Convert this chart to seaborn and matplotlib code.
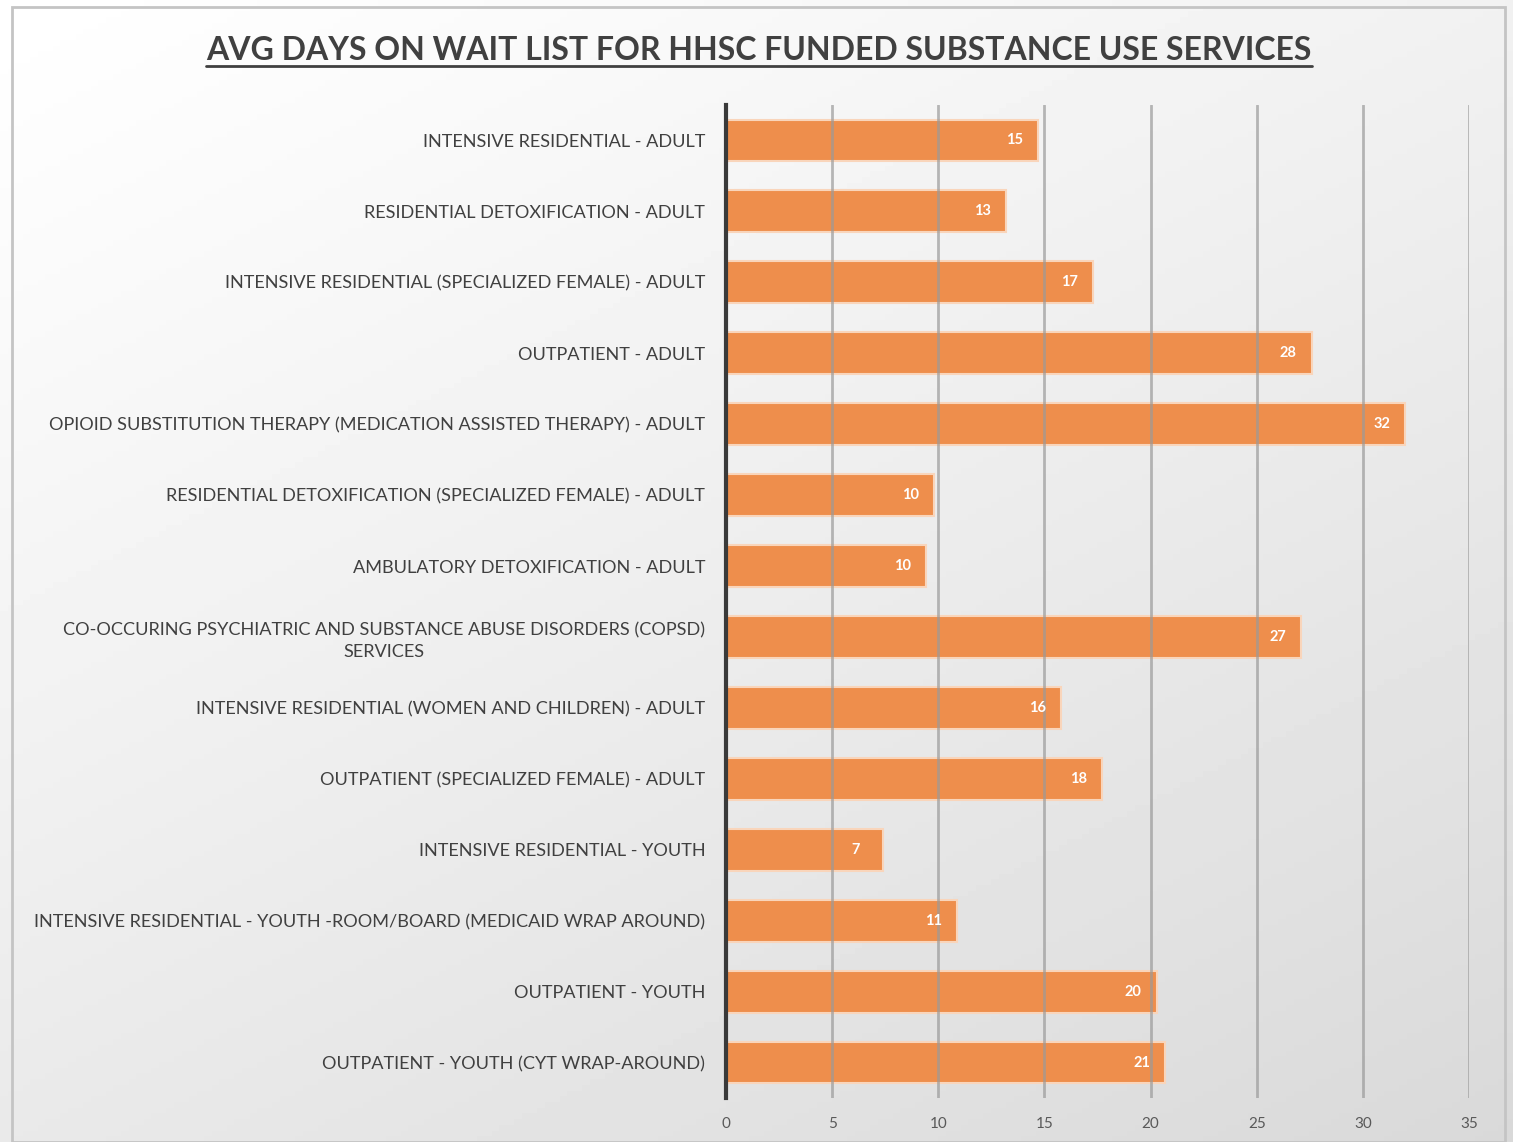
import numpy as np
import pandas as pd
import matplotlib
matplotlib.use("Agg")
import matplotlib.pyplot as plt
import seaborn as sns
from matplotlib.lines import Line2D
from matplotlib.patches import Rectangle

services = [
    "INTENSIVE RESIDENTIAL - ADULT",
    "RESIDENTIAL DETOXIFICATION - ADULT",
    "INTENSIVE RESIDENTIAL (SPECIALIZED FEMALE) - ADULT",
    "OUTPATIENT - ADULT",
    "OPIOID SUBSTITUTION THERAPY (MEDICATION ASSISTED THERAPY) - ADULT",
    "RESIDENTIAL DETOXIFICATION (SPECIALIZED FEMALE) - ADULT",
    "AMBULATORY DETOXIFICATION - ADULT",
    "CO-OCCURING PSYCHIATRIC AND SUBSTANCE ABUSE DISORDERS (COPSD)\nSERVICES",
    "INTENSIVE RESIDENTIAL (WOMEN AND CHILDREN) - ADULT",
    "OUTPATIENT (SPECIALIZED FEMALE) - ADULT",
    "INTENSIVE RESIDENTIAL - YOUTH",
    "INTENSIVE RESIDENTIAL - YOUTH -ROOM/BOARD (MEDICAID WRAP AROUND)",
    "OUTPATIENT - YOUTH",
    "OUTPATIENT - YOUTH (CYT WRAP-AROUND)",
]
avg_days = [14.7, 13.2, 17.3, 27.6, 32.0, 9.8, 9.4, 27.1, 15.8, 17.7, 7.4, 10.9, 20.3, 20.7]
day_labels = ["15", "13", "17", "28", "32", "10", "10", "27", "16", "18", "7", "11", "20", "21"]
x_ticks = [0, 5, 10, 15, 20, 25, 30, 35]

sns.set_theme(style="white")
plt.rcParams['font.family'] = ['Lato', 'DejaVu Sans']

df = pd.DataFrame({"service": services, "days": avg_days})

fig = plt.figure(figsize=(15.13, 11.42), dpi=100)

# gradient background, white top-left to light grey bottom-right
bg = fig.add_axes([0, 0, 1, 1], zorder=-10)
yy, xx = np.mgrid[0:1:200j, 0:1:200j]
grad = 1.0 - 0.15 * np.clip((xx * 0.6 + yy * 0.9) / 1.5, 0, 1) ** 1.1
bg.imshow(grad, cmap="gray", vmin=0, vmax=1, extent=[0, 1, 0, 1],
          aspect="auto", origin="upper")
bg.set_axis_off()
fig.patches.append(Rectangle((12 / 1513, 0), 1493 / 1513, 1135 / 1142,
                             transform=fig.transFigure, fill=False,
                             edgecolor="#C4C4C4", linewidth=2))

ax = fig.add_axes([726 / 1513, 1 - 1098 / 1142, 743 / 1513, 993 / 1142])
ax.set_facecolor("none")

sns.barplot(data=df, x="days", y="service", orient="h", color="#EE8E4C",
            saturation=1, width=0.59, edgecolor="#F9D5BB", linewidth=1.5,
            ax=ax, zorder=3)

ax.set_xlim(0, 35)
ax.set_xticks(x_ticks)
ax.set_xticklabels([str(t) for t in x_ticks], fontsize=11, color="#595959")
ax.tick_params(axis="x", length=0, pad=14)
ax.tick_params(axis="y", length=0, pad=15)
for lbl in ax.get_yticklabels():
    lbl.set_fontsize(13.1)
    lbl.set_color("#404040")
    lbl.set_horizontalalignment("right")
    lbl.set_multialignment("center")
    lbl.set_linespacing(1.45)

for t in x_ticks[1:]:
    ax.axvline(t, color="#9A9A9A", linewidth=2, zorder=4, alpha=0.7)

for s in ["top", "right", "bottom"]:
    ax.spines[s].set_visible(False)
ax.spines["left"].set_color("#3A3A3A")
ax.spines["left"].set_linewidth(3)
ax.spines["left"].set_zorder(6)

ax.bar_label(ax.containers[0], labels=day_labels, padding=-23, color="white",
             fontsize=10.5, fontweight="bold", label_type="edge", zorder=7)
ax.set_xlabel("")
ax.set_ylabel("")

title = fig.text(759 / 1513, 1 - 50 / 1142,
                 "AVG DAYS ON WAIT LIST FOR HHSC FUNDED SUBSTANCE USE SERVICES",
                 ha="center", va="center", fontsize=23, fontweight="bold",
                 color="#404040")
fig.canvas.draw()
bb = title.get_window_extent().transformed(fig.transFigure.inverted())
fig.add_artist(Line2D([bb.x0, bb.x1], [bb.y0 - 0.001, bb.y0 - 0.001],
                      transform=fig.transFigure, color="#404040", linewidth=2))

fig.savefig("out.png", dpi=100)
